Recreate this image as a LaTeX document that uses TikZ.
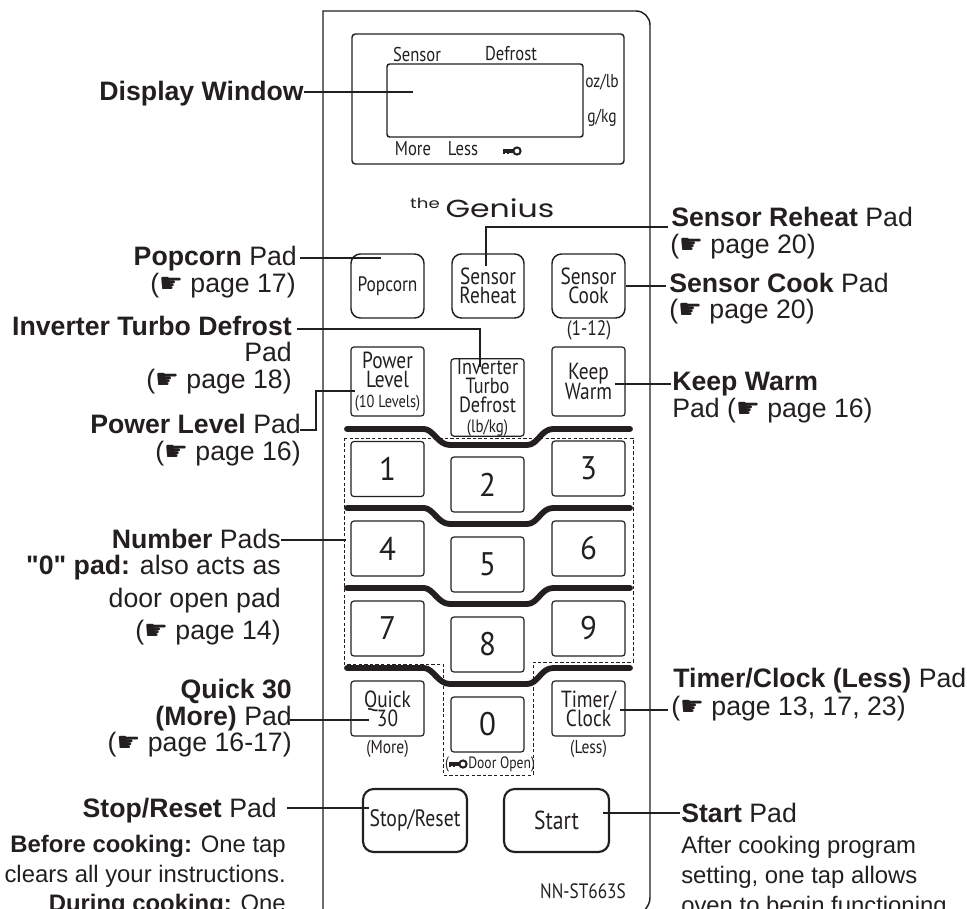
\documentclass[tikz,border=0pt]{standalone}
\usepackage{fontspec}
\setmainfont{Liberation Sans}
\newfontfamily\plainfont{Liberation Sans}
\newfontfamily\panelfont[FakeStretch=0.83]{PT Sans}
\newfontfamily\numfont[FakeStretch=0.95]{PT Sans}
\newfontfamily\genfont{Poppins}
\newfontfamily\symfont{DejaVu Sans}
\newcommand{\hand}{{\symfont\char"261B}}
\normallineskiplimit=-20pt
\lineskiplimit=-20pt
\definecolor{ink}{HTML}{231F20}
\tikzset{
  x=.75pt,y=-.75pt,
  lab/.style={text=ink,font=\fontsize{20}{24}\selectfont,inner sep=0pt,anchor=base east},
  labr/.style={text=ink,font=\fontsize{20}{24}\selectfont,inner sep=0pt,anchor=base west},
  small/.style={text=ink,font=\fontsize{17.9}{21}\selectfont,inner sep=0pt},
  pan/.style={text=ink,font=\panelfont\fontsize{#1}{#1}\selectfont,inner sep=0pt,align=center},
  pan/.default=16,
  btn/.style 2 args={draw=ink,line width=.9pt,rounded corners=2.2pt,minimum width=#1*.75pt,minimum height=#2*.75pt,inner sep=0pt,text=ink,align=center,font=\panelfont\fontsize{17.5}{14.5}\selectfont},
  rbtn/.style={line width=1.1pt,rounded corners=7pt},
  bigbtn/.style={line width=1.6pt,rounded corners=8pt},
  num/.style={font=\numfont\fontsize{24.5}{25}\selectfont},
  leader/.style={draw=ink,line width=.8pt},
  thick bar/.style={draw=ink,line width=4.4pt,line cap=round,line join=round},
  keyicon/.pic={\fill[ink] (-9,-1.6) rectangle (3,1.6); \fill[ink] (-9,0) rectangle (-7,3); \fill[ink] (-5,0) rectangle (-3,3);
     \draw[ink,line width=1.5pt,fill=white] (5,0) circle (3.6);}
}
\begin{document}
\begin{tikzpicture}
\useasboundingbox (0,0) rectangle (967,908);
\clip (0,0) rectangle (967,908);
% panel
\draw[ink,line width=1.1pt] (323,920) -- (323,11) -- (636,11) arc[start angle=-90,end angle=0,radius=14] -- (650,897) .. controls (650,903) and (648,906) .. (644,911);
% display
\draw[ink,line width=1.1pt,rounded corners=2.5pt] (352,34) rectangle (624,164);
\draw[ink,line width=1.1pt,rounded corners=2pt] (387,64) rectangle (583,137);
\node[pan=15] (tsensor) at (417,54) {Sensor};
\node[pan=15] (tdefrost) at (511,54) {Defrost};
\node[pan=14] (toz) at (602,82) {oz/lb};
\node[pan=14] (tg) at (602,118) {g/kg};
\node[pan=15] (tmore) at (413,149) {More};
\node[pan=15] (tless) at (463,149) {Less};
\pic at (512,151) {keyicon};
% genius
\node[anchor=base,inner sep=0pt,text=ink,font=\genfont\fontsize{10.5}{10.5}\selectfont,xscale=1.3] (tthe) at (425,208) {the};
\node[anchor=base,inner sep=0pt,text=ink,font=\genfont\fontsize{18.5}{18.5}\selectfont,xscale=1.28] (tgen) at (500,217) {Genius};
% buttons
\node[btn={73}{64},rbtn] (popcorn) at (387.5,286) {\fontsize{15.7}{14.5}\selectfont Popcorn};
\node[btn={72}{64},rbtn] (reheat) at (488,286) {Sensor\\Reheat};
\node[btn={73}{64},rbtn] (cook) at (588.5,286) {Sensor\\Cook};
\node[pan=15.7] (t112) at (589,330) {(1-12)};
\node[btn={73}{69}] (power) at (387.5,381.5) {\fontsize{17.5}{13.5}\selectfont Power\\\fontsize{17.5}{13.5}\selectfont Level\\\fontsize{13}{13.5}\selectfont(10 Levels)};
\node[btn={73}{69}] (inverter) at (487.5,397.5) {\fontsize{16.5}{12}\selectfont Inverter\\\fontsize{16.5}{12}\selectfont Turbo\\\fontsize{16.5}{12}\selectfont Defrost\\\fontsize{13.5}{12}\selectfont(lb/kg)};
\node[btn={73}{69}] (warm) at (588.5,381.5) {Keep\\Warm};
\node[btn={73}{55},num] (n1) at (387.5,469) {1};
\node[btn={73}{55},num] (n2) at (487.5,484.5) {2};
\node[btn={73}{55},num] (n3) at (588.5,468.5) {3};
\node[btn={73}{55},num] (n4) at (387.5,548.5) {4};
\node[btn={73}{55},num] (n5) at (487.5,564.5) {5};
\node[btn={73}{55},num] (n6) at (588.5,548.5) {6};
\node[btn={73}{55},num] (n7) at (387.5,628.5) {7};
\node[btn={73}{55},num] (n8) at (487.5,644.5) {8};
\node[btn={73}{55},num] (n9) at (588.5,628.5) {9};
\node[btn={73}{55}] (quick) at (387.5,708.5) {Quick\\30};
\node[btn={73}{55},num] (n0) at (487.5,724.5) {0};
\node[btn={73}{55}] (timer) at (588.5,708.5) {Timer/\\Clock};
\node[pan=14] (tmore2) at (387.5,749) {(More)};
\node[pan=14] (tless2) at (588.5,749) {(Less)};
\node[pan=12.3] (tparen) at (447,764) {(};
\pic at (458,764) {keyicon};
\node[pan=12.3,anchor=west] (tdoor) at (468,764) {Door Open)};
\node[btn={104}{63},bigbtn] (stop) at (415,820.5) {\fontsize{17.8}{16}\selectfont Stop/Reset};
\node[btn={105}{63},bigbtn] (start) at (556.5,820.5) {\fontsize{19.5}{16}\selectfont Start};
\node[pan=15.6] (tmodel) at (583,891) {NN-ST663S};
% dashed outline
\draw[ink,line width=.7pt,dash pattern=on 2.6pt off 1.6pt] (344,438) -- (633,438) -- (633,662) -- (533,662) -- (533,775) -- (443,775) -- (443,664) -- (344,664) -- cycle;
% bars
\foreach \y in {429,508,588,668}{
  \draw[thick bar] (347,\y) -- (424,\y) .. controls (433,\y) and (438,\y+16) .. (450,\y+16) -- (527,\y+16) .. controls (538,\y+16) and (541,\y) .. (553,\y) -- (630,\y);
}
% labels left
\node[lab] (ldisplay) at (304,100) {\textbf{Display Window}};
\node[lab] (lpop) at (297,265) {\textbf{Popcorn} Pad};
\node[lab] (lpop2) at (296,292) {(\hand{} page 17)};
\node[lab] (linv) at (292,335) {\textbf{Inverter Turbo Defrost}};
\node[lab] (linv2) at (292,361) {Pad};
\node[lab] (linv3) at (292,388) {(\hand{} page 18)};
\node[lab] (lpow) at (301,433) {\textbf{Power Level} Pad};
\node[lab] (lpow2) at (301,460) {(\hand{} page 16)};
\node[lab] (lnum) at (281,548) {\textbf{Number} Pads};
\node[lab] (lnum2) at (281,574) {{\plainfont\bfseries "0" pad:} also acts as};
\node[lab] (lnum3) at (281,607) {door open pad};
\node[lab] (lnum4) at (281,639) {(\hand{} page 14)};
\node[lab] (lq1) at (292,698) {\textbf{Quick 30}};
\node[lab] (lq) at (292,725) {\textbf{(More)} Pad};
\node[lab] (lq3) at (292,751) {(\hand{} page 16-17)};
\node[lab] (lstop) at (277,817) {\textbf{Stop/Reset} Pad};
\node[small,anchor=base east] (ls1) at (286,852) {\textbf{Before cooking:} One tap};
\node[small,anchor=base east] (ls2) at (286,882) {clears all your instructions.};
\node[small,anchor=base east] (ls3) at (286,911) {\textbf{During cooking:} One};
% labels right
\node[labr] (lreheat) at (671,226) {\textbf{Sensor Reheat} Pad};
\node[labr] (lreheat2) at (670,253) {(\hand{} page 20)};
\node[labr] (lcook) at (669,292) {\textbf{Sensor Cook} Pad};
\node[labr] (lcook2) at (669,318) {(\hand{} page 20)};
\node[labr] (lwarm) at (672,390) {\textbf{Keep Warm}};
\node[labr] (lwarm2) at (672,417) {Pad (\hand{} page 16)};
\node[labr] (ltimer) at (673,687) {\textbf{Timer/Clock (Less)} Pad};
\node[labr] (ltimer2) at (671,715) {(\hand{} page 13, 17, 23)};
\node[labr] (lstart) at (681,822) {\textbf{Start} Pad};
\node[small,anchor=base west] (lr1) at (681,853) {After cooking program};
\node[small,anchor=base west] (lr2) at (681,883) {setting, one tap allows};
\node[small,anchor=base west] (lr3) at (681,913) {oven to begin functioning};
% connector ends
\coordinate (edisplay) at (413,92);
\coordinate (epop) at (381,258);
\coordinate (einv) at (480,367);
\coordinate (epow) at (355,391);
\coordinate (ereheat) at (486,266);
\coordinate (enum) at (346,540);
\coordinate (eq) at (369,720);
\coordinate (estop) at (369,808);
\coordinate (ewarm) at (615,384);
\coordinate (etimer) at (620,710);
\coordinate (estart) at (603,813);
% connectors
\draw[leader] (304,92) coordinate (sdisplay) -- (edisplay);
\draw[leader] (300,258) coordinate (spop) -- (epop);
\draw[leader] (297,329) coordinate (sinv) -| (einv);
\draw[leader] (300,430) coordinate (spow) -- (316,430) |- (epow);
\draw[leader] (668,227) coordinate (sreheat) -| (ereheat);
\draw[leader] (cook.east) -- (666,286) coordinate (scook);
\draw[leader] (ewarm) -- (671,384) coordinate (swarm);
\draw[leader] (281,540) coordinate (snum) -- (enum);
\draw[leader] (290,720) coordinate (sq) -- (eq);
\draw[leader] (287,808) coordinate (sstop) -- (estop);
\draw[leader] (etimer) -- (668,710) coordinate (stimer);
\draw[leader] (estart) -- (680,813) coordinate (sstart);
\end{tikzpicture}
\end{document}
